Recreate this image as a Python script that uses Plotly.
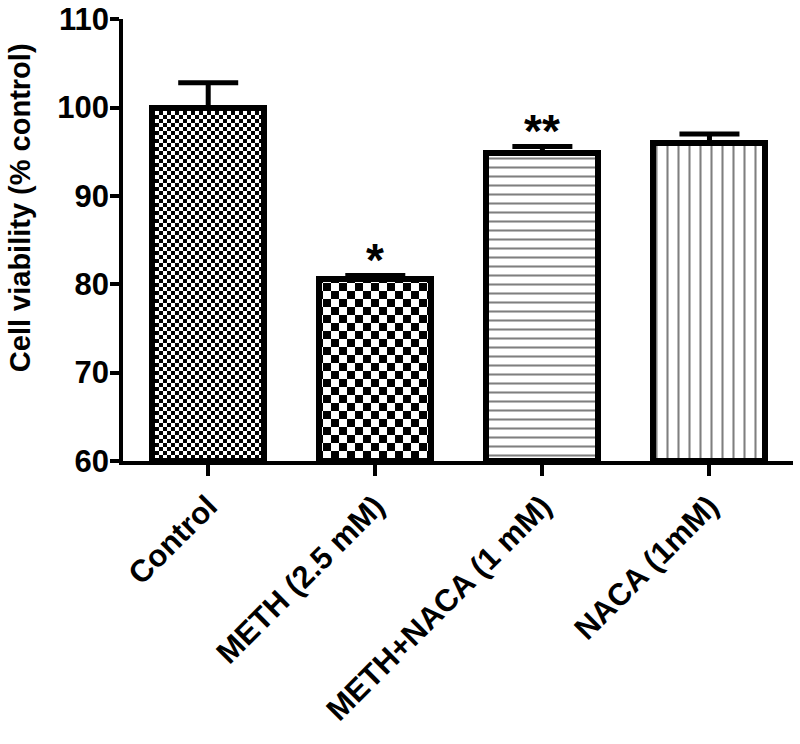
import plotly.graph_objects as go

groups = ["Control", "METH (2.5 mM)", "METH+NACA (1 mM)", "NACA (1mM)"]
viability = [100.0, 80.6, 94.8, 96.0]
sem = [2.8, 0.4, 0.8, 1.0]
stars = ["", "*", "**", ""]
y_ticks = [60, 70, 80, 90, 100, 110]

FONT = "Arial, Liberation Sans, sans-serif"

fig = go.Figure()
fig.add_trace(go.Bar(
    x=groups, y=[v - 60 for v in viability], base=60, width=0.67,
    marker=dict(
        color="white",
        line=dict(color="black", width=6),
        pattern=dict(shape=[".", ".", "-", "|"], fgcolor="black", bgcolor="white",
                     size=[7, 16, 9, 11], solidity=[0.5, 0.5, 0.23, 0.19], fillmode="overlay"),
    ),
    error_y=dict(type="data", array=sem, arrayminus=[0] * len(sem), symmetric=False,
                 color="black", thickness=5, width=30),
    showlegend=False, hoverinfo="skip",
))

# significance marks above the error bars
for g, v, e, s in zip(groups, viability, sem, stars):
    if s:
        fig.add_annotation(x=g, y=v + e, text=s, showarrow=False, yanchor="middle", yshift=15,
                           font=dict(family=FONT, size=46, color="black", weight="bold"))

# y title sits a bit above the middle of the axis, as in the original
fig.add_annotation(text="Cell viability (% control)", textangle=-90, showarrow=False,
                   xref="paper", yref="paper", x=0, y=0.572, xanchor="center", yanchor="middle",
                   xshift=-103, font=dict(family=FONT, size=29, color="black", weight="bold"))

fig.update_xaxes(
    range=[-0.51, 3.5], showline=True, linecolor="black", linewidth=3.5,
    ticks="outside", ticklen=11, tickwidth=3.5, tickcolor="black", tickangle=-45,
    tickfont=dict(family=FONT, size=31, color="black", weight="bold"),
    showgrid=False, zeroline=False, automargin=False,
)
fig.update_yaxes(
    range=[60, 110.02], tickvals=y_ticks, showline=True, linecolor="black", linewidth=3.5,
    ticks="outside", ticklen=9, tickwidth=3.5, tickcolor="black", ticklabelstandoff=-5,
    ticklabeloverflow="allow",
    tickfont=dict(family=FONT, size=31, color="black", weight="bold"),
    showgrid=False, zeroline=False, automargin=False,
)
fig.update_layout(
    width=800, height=744, plot_bgcolor="white", paper_bgcolor="white",
    margin=dict(l=123, r=7, t=19, b=283), bargap=0,
)

# drop the default body margin, then add checkerboard fills for the first two bars
# (plotly patterns have no checker shape)
checker_js = """
document.body.style.margin = '0';
var gd = document.getElementById('{plot_id}');
var svg = gd.querySelector('svg.main-svg');
var defs = svg.querySelector('defs');
var ns = 'http://www.w3.org/2000/svg';
function rect(p, x, y, w, h, c) {
  var r = document.createElementNS(ns, 'rect');
  r.setAttribute('x', x); r.setAttribute('y', y);
  r.setAttribute('width', w); r.setAttribute('height', h);
  r.setAttribute('fill', c); r.setAttribute('shape-rendering', 'crispEdges');
  p.appendChild(r);
}
function checker(id, c) {
  var p = document.createElementNS(ns, 'pattern');
  p.setAttribute('id', id);
  p.setAttribute('patternUnits', 'userSpaceOnUse');
  p.setAttribute('width', 2 * c); p.setAttribute('height', 2 * c);
  rect(p, 0, 0, 2 * c, 2 * c, 'white');
  rect(p, 0, 0, c, c, 'black');
  rect(p, c, c, c, c, 'black');
  defs.appendChild(p);
}
checker('chk_fine', 4);
checker('chk_coarse', 8);
var paths = gd.querySelectorAll('.barlayer .point path');
if (paths.length >= 2) {
  paths[0].style.fill = 'url(#chk_fine)';
  paths[1].style.fill = 'url(#chk_coarse)';
}
"""

fig.write_html("out.html", post_script=checker_js, config={"displayModeBar": False})
